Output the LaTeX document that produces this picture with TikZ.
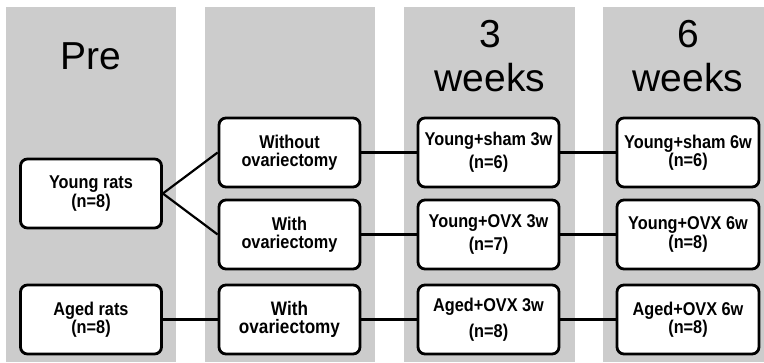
\documentclass[tikz,border=0pt]{standalone}
\usepackage{fontspec}
\setmainfont{Liberation Sans}
\newfontfamily\boxfont[FakeStretch=0.88]{Liberation Sans}
\definecolor{colgray}{RGB}{204,204,204}
\begin{document}
\begin{tikzpicture}[x=1pt,y=-1pt,
  colband/.style={fill=colgray, draw=none},
  box/.style={draw=black, fill=white, line width=2.8pt, rounded corners=7pt,
    minimum width=141pt, minimum height=69pt, inner sep=0pt, align=center},
  titletext/.style={font=\fontsize{39}{44}\selectfont, anchor=base, inner sep=0pt},
  link/.style={line width=2.2pt}]
\newcommand\bxf[2]{\boxfont\bfseries\fontsize{#1}{#2}\selectfont}
\useasboundingbox (0,0) rectangle (764,362);
% column bands
\fill[colband] (6,7) rectangle (176,362);
\fill[colband] (205,7) rectangle (375,362);
\fill[colband] (404,7) rectangle (575,362);
\fill[colband] (603,7) rectangle (764,362);
% titles
\node[titletext] (tpre) at (91,69) {Pre};
\node[titletext] (t3a) at (490,47) {3};
\node[titletext] (t3b) at (490,91) {weeks};
\node[titletext] (t6a) at (688,47) {6};
\node[titletext] (t6b) at (688,91) {weeks};
% column 1
\node[box, font=\bxf{18.5}{16.5}] (young) at (91,193.5) {Young rats\\(n=8)};
\node[box, font=\bxf{18.5}{17}] (aged) at (91,319.5) {Aged rats\\(n=8)};
% column 2
\node[box, font=\bxf{18.5}{18}] (wo) at (289.5,152.5) {Without\\ovariectomy};
\node[box, font=\bxf{18.5}{18}] (w1) at (289.5,234.5) {With\\ovariectomy};
\node[box, font=\bxf{19.5}{18}] (w2) at (289.5,319.5) {With\\ovariectomy};
% column 3
\node[box, font=\bxf{18.5}{23}] (ys3) at (488.5,152.5) {Young+sham 3w\\(n=6)};
\node[box, font=\bxf{18.5}{23}] (yo3) at (488.5,234.5) {Young+OVX 3w\\(n=7)};
\node[box, font=\bxf{18.5}{26}] (ao3) at (488.5,319.5) {Aged+OVX 3w\\(n=8)};
% column 4
\node[box, minimum width=142pt, font=\bxf{18.5}{17.5}] (ys6) at (688,152.5) {Young+sham 6w\\(n=6)};
\node[box, minimum width=142pt, font=\bxf{18.5}{16.5}] (yo6) at (688,234.5) {Young+OVX 6w\\(n=8)};
\node[box, minimum width=142pt, font=\bxf{18.5}{16.5}] (ao6) at (688,319.5) {Aged+OVX 6w\\(n=8)};
% connectors
\draw[link] (young.east) -- (wo.west);
\draw[link] (young.east) -- (w1.west);
\draw[link] (aged) -- (w2);
\draw[link] (wo) -- (ys3);
\draw[link] (w1) -- (yo3);
\draw[link] (w2) -- (ao3);
\draw[link] (ys3) -- (ys6);
\draw[link] (yo3) -- (yo6);
\draw[link] (ao3) -- (ao6);
\end{tikzpicture}
\end{document}
